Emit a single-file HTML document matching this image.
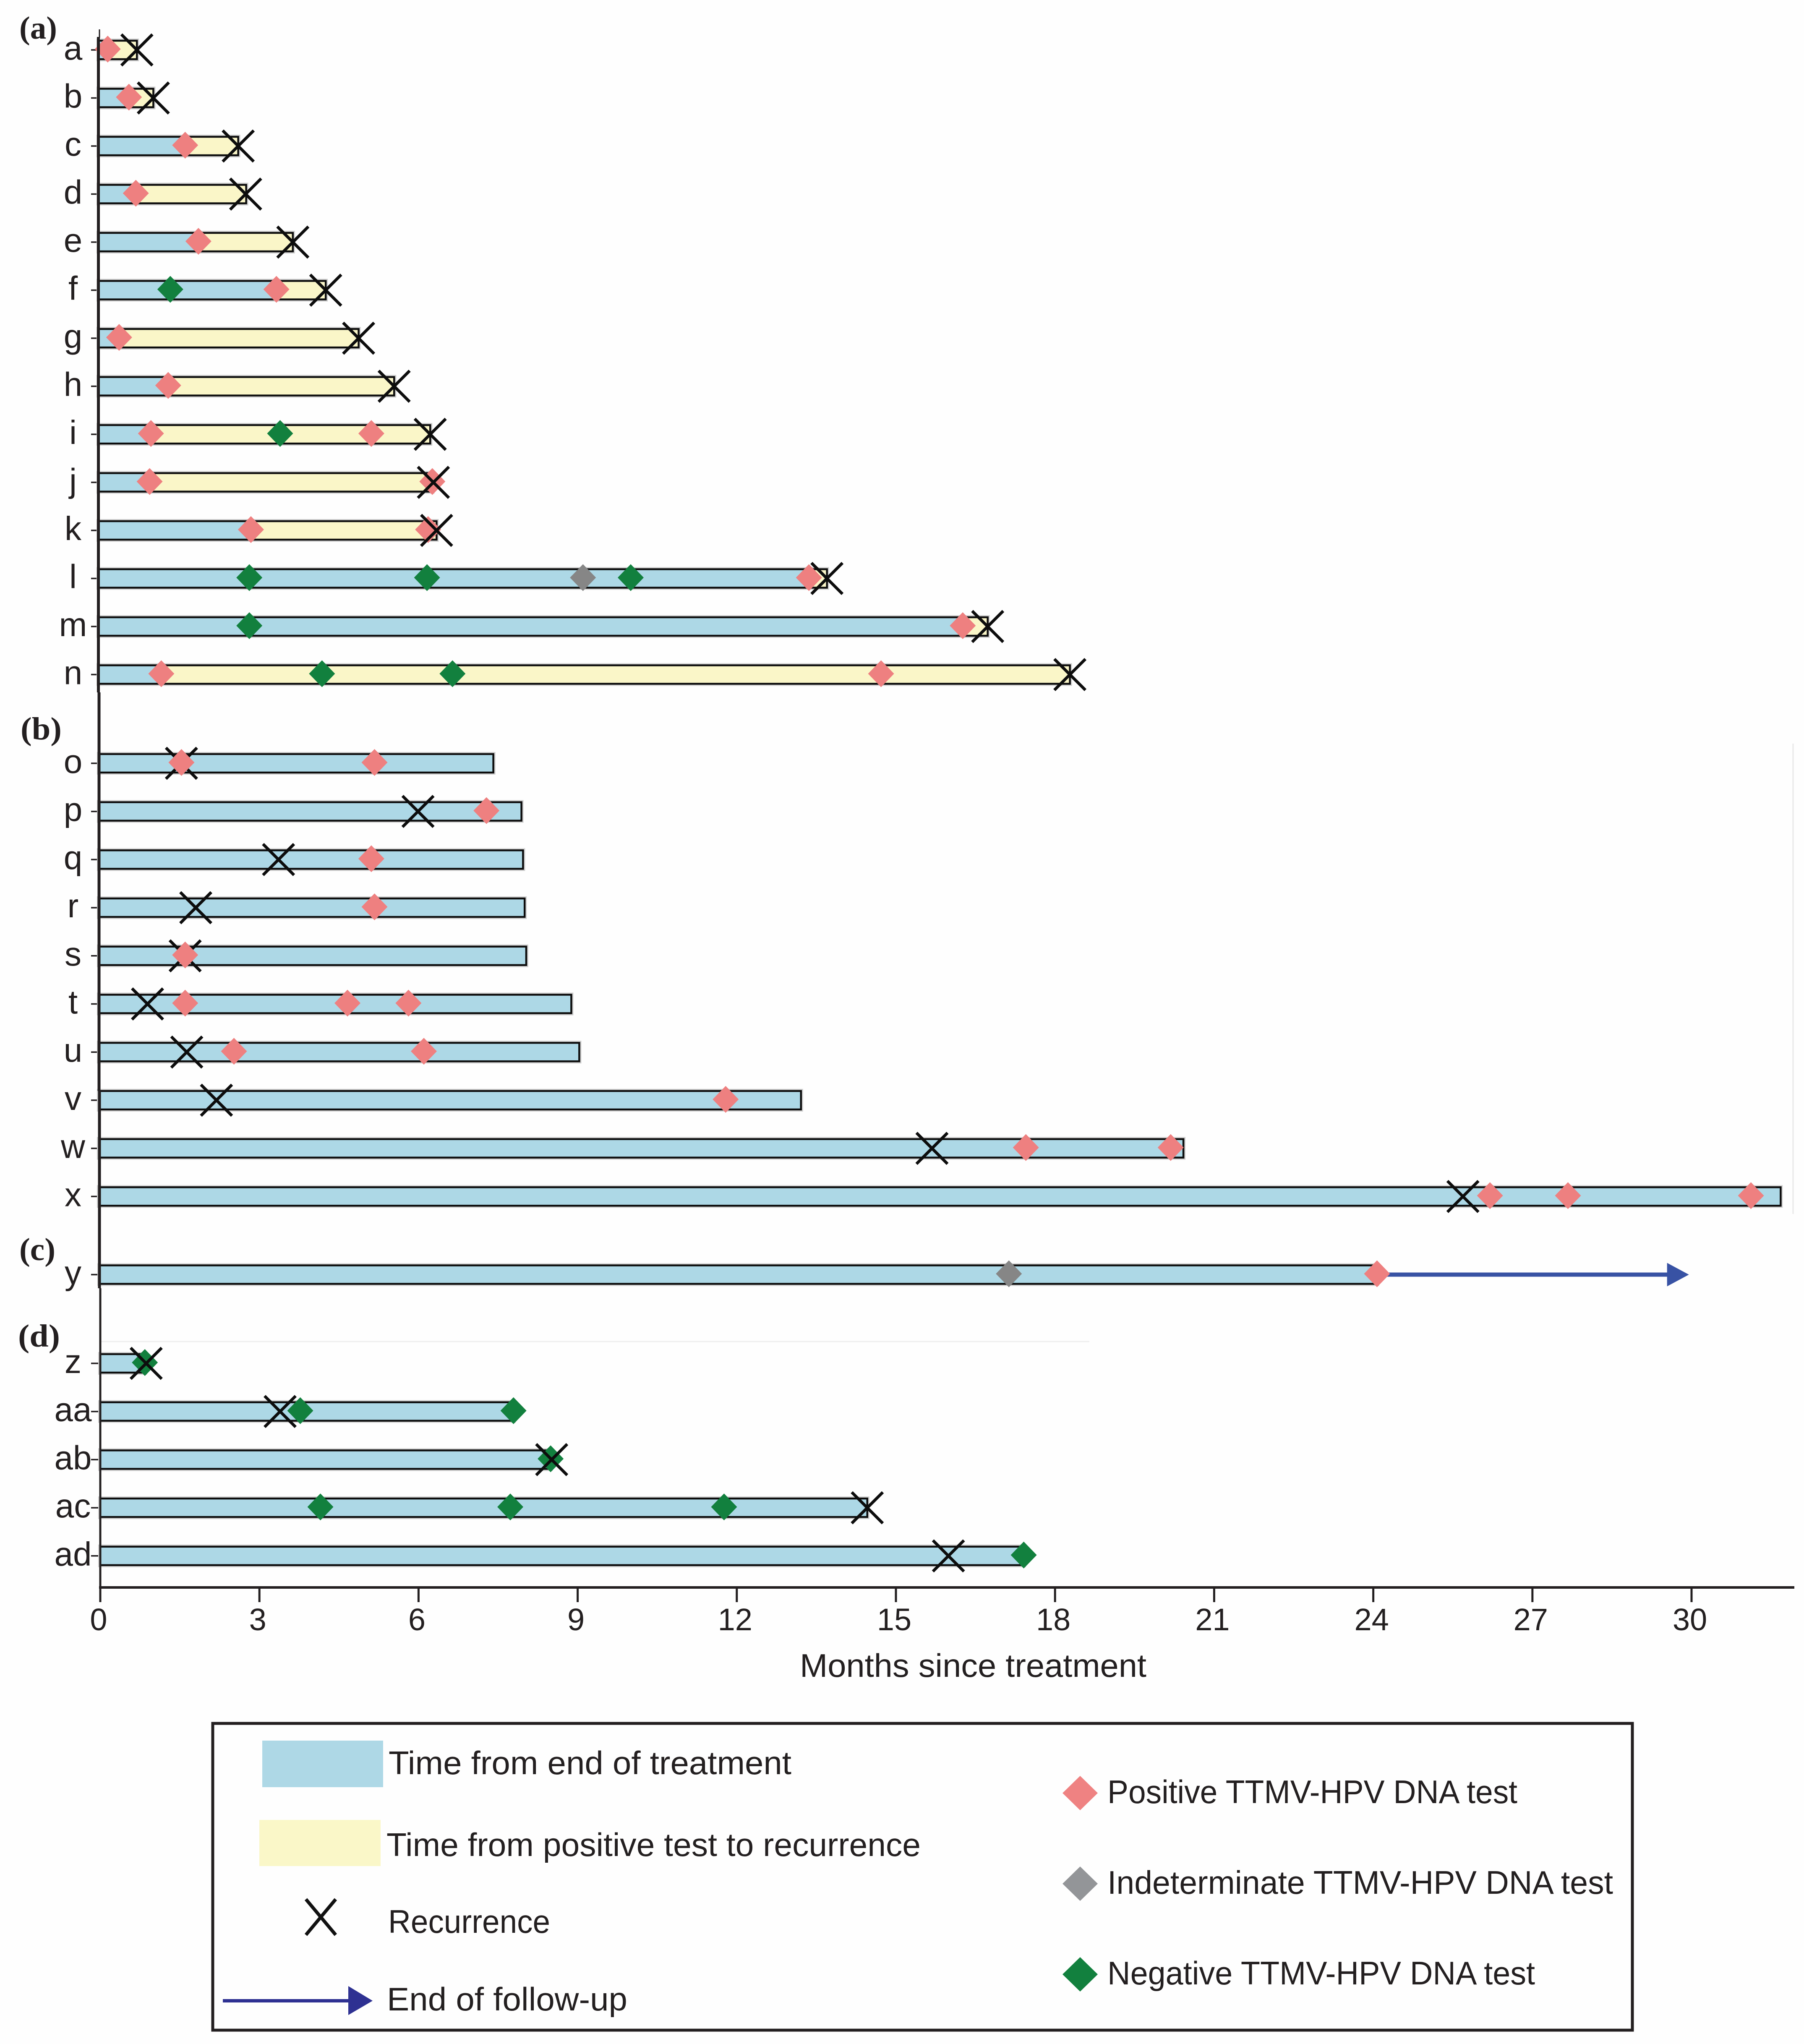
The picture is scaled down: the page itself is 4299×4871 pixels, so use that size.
<!DOCTYPE html>
<html lang="en">
<head>
<meta charset="utf-8">
<title>Timeline of TTMV-HPV DNA tests and recurrence by patient</title>
<style>
  html, body { margin: 0; padding: 0; background: #fefefe; }
  svg { display: block; }
  text { font-family: "Liberation Sans", sans-serif; fill: #231f20; }
  .panel { font-family: "Liberation Serif", serif; font-weight: bold; font-size: 76px; }
  .legend-text { font-size: 78px; }
</style>
</head>
<body>
<svg id="chart" xmlns="http://www.w3.org/2000/svg" width="4299" height="4871" viewBox="0 0 4299 4871">
  <rect x="0" y="0" width="4299" height="4871" fill="#fefefe"/>
  <line x1="4273" y1="1772" x2="4273" y2="2893" stroke="#eeeeee" stroke-width="4"/>
  <line x1="239" y1="3197" x2="2596" y2="3197" stroke="#eeeeee" stroke-width="3"/>

  <g id="plot"></g>

  <g stroke="#231f20" stroke-width="7" fill="none">
    <line x1="237" y1="70" x2="237" y2="90" stroke-width="3"/>
    <line x1="234.5" y1="88" x2="234.5" y2="1650"/>
    <line x1="236" y1="1650" x2="236" y2="2600"/>
    <line x1="237" y1="2600" x2="237" y2="3070"/>
    <line x1="239" y1="3070" x2="239" y2="3815" stroke-width="5"/>
  </g>

  <text class="panel" x="46" y="92" textLength="90" lengthAdjust="spacingAndGlyphs">(a)</text>
  <text class="panel" x="49" y="1762" textLength="98" lengthAdjust="spacingAndGlyphs">(b)</text>
  <text class="panel" x="46" y="3003" textLength="86" lengthAdjust="spacingAndGlyphs">(c)</text>
  <text class="panel" x="43" y="3209" textLength="100" lengthAdjust="spacingAndGlyphs">(d)</text>

  <text x="1906" y="3996" font-size="78" textLength="826" lengthAdjust="spacingAndGlyphs">Months since treatment</text>

  <g>
    <rect x="507" y="4107" width="3383" height="731" fill="none" stroke="#231f20" stroke-width="7"/>

    <rect x="625" y="4148" width="288" height="111" fill="#aed8e6"/>
    <text class="legend-text" x="926" y="4228" textLength="960" lengthAdjust="spacingAndGlyphs">Time from end of treatment</text>

    <rect x="618" y="4337" width="289" height="110" fill="#faf7c8"/>
    <text class="legend-text" x="921" y="4423" textLength="1273" lengthAdjust="spacingAndGlyphs">Time from positive test to recurrence</text>

    <g stroke="#111111" stroke-width="8">
      <line x1="729" y1="4526" x2="800" y2="4611"/>
      <line x1="800" y1="4526" x2="729" y2="4611"/>
    </g>
    <text class="legend-text" x="925" y="4606" textLength="386" lengthAdjust="spacingAndGlyphs">Recurrence</text>

    <line x1="531" y1="4768" x2="832" y2="4768" stroke="#2e3192" stroke-width="8"/>
    <polygon points="830,4733 888,4768 830,4802" fill="#2e3192"/>
    <text class="legend-text" x="922" y="4791" textLength="573" lengthAdjust="spacingAndGlyphs">End of follow-up</text>

    <polygon points="2532,4273 2574,4232 2616,4273 2574,4314" fill="#ef8282"/>
    <text class="legend-text" x="2639" y="4297" textLength="977" lengthAdjust="spacingAndGlyphs">Positive TTMV-HPV DNA test</text>

    <polygon points="2532,4489 2574,4448 2616,4489 2574,4530" fill="#939598"/>
    <text class="legend-text" x="2639" y="4513" textLength="1205" lengthAdjust="spacingAndGlyphs">Indeterminate TTMV-HPV DNA test</text>

    <polygon points="2532,4705 2574,4664 2616,4705 2574,4746" fill="#12803e"/>
    <text class="legend-text" x="2639" y="4729" textLength="1019" lengthAdjust="spacingAndGlyphs">Negative TTMV-HPV DNA test</text>
  </g>
</svg>

<script>
// ---- chart data (months since treatment) ----
const patients = ["a","b","c","d","e","f","g","h","i","j","k","l","m","n","o","p","q","r","s","t","u","v","w","x","y","z","aa","ab","ac","ad"];
const patientGroup = ["a","a","a","a","a","a","a","a","a","a","a","a","a","a","b","b","b","b","b","b","b","b","b","b","c","d","d","d","d","d"];
const followUpEnd = [0.69,1.0,2.6,2.75,3.63,4.25,4.87,5.54,6.22,6.26,6.34,13.7,16.73,18.28,7.41,7.94,7.97,8.0,8.03,8.88,9.03,13.21,20.42,31.68,24.07,0.84,7.79,8.49,14.46,17.41];
const yellowStart = [0.14,0.54,1.6,0.67,1.85,3.32,0.355,1.28,0.955,0.93,2.84,13.36,16.26,1.15,null,null,null,null,null,null,null,null,null,null,null,null,null,null,null,null];
const recurrence = [0.69,1.0,2.6,2.74,3.63,4.25,4.87,5.54,6.22,6.28,6.34,13.7,16.73,18.28,1.53,5.99,3.36,1.8,1.6,0.89,1.63,2.19,15.68,25.69,null,0.865,3.39,8.51,14.46,15.99];
const positiveTests = [[0.14],[0.54],[1.6],[0.67],[1.85],[3.32],[0.355],[1.28],[0.955,5.11],[0.93,6.26],[2.84,6.18],[13.36],[16.26],[1.15,14.72],[1.53,5.17],[7.28],[5.11],[5.17],[1.6],[1.6,4.66,5.81],[2.52,6.1],[11.79],[17.45,20.18],[26.2,27.67,31.12],[24.07],[],[],[],[],[]];
const negativeTests = [[],[],[],[],[],[1.32],[],[],[3.39],[],[],[2.81,6.16,10.0],[2.81],[4.18,6.64],[],[],[],[],[],[],[],[],[],[],[],[0.84],[3.77,7.79],[8.49],[4.15,7.73,11.76],[17.41]];
const indeterminateTests = [[],[],[],[],[],[],[],[],[],[],[],[9.1],[],[],[],[],[],[],[],[],[],[],[],[],[17.13],[],[],[],[],[]];
const followUpArrowPatient = "y";
const followUpArrowEnd = 29.95;
const xTickValues = [0,3,6,9,12,15,18,21,24,27,30];
const xTickLabels = ["0","3","6","9","12","15","18","21","24","27","30"];

// ---- axis functions ----
const xOrigin = 239, pxPerMonth = 126.4;
function xScale(m) { return xOrigin + pxPerMonth * m; }
function yScale(i) {
  const group = patientGroup[i];
  const first = patientGroup.indexOf(group);
  const top = { a: 119, b: 1819, c: 3037.5, d: 3249 }[group];
  const step = group === "a" ? 114.5 : 114.7;
  return top + (i - first) * step;
}
function barLeft(group) {
  return { a: 235, b: 236, c: 237, d: 239 }[group];
}

const NS = "http://www.w3.org/2000/svg";
const plot = document.getElementById("plot");
function make(tag, attrs, parent) {
  const el = document.createElementNS(NS, tag);
  for (const k in attrs) el.setAttribute(k, attrs[k]);
  (parent || plot).appendChild(el);
  return el;
}
function diamond(m, y, fill, name, parent) {
  const cx = xScale(m), cy = y - 2;
  const el = make("polygon", { points: (cx-31)+","+cy+" "+cx+","+(cy-32)+" "+(cx+31)+","+cy+" "+cx+","+(cy+32), fill: fill }, parent);
  
  
}
function cross(m, y, name, parent) {
  const cx = xScale(m), r = 37;
  const g = make("g", { stroke: "#0d0d0d", "stroke-width": 7 }, parent);
  
  
  const a = make("line", { x1: cx-r, y1: y-r, x2: cx+r, y2: y+r }, g);
  
  
  const b = make("line", { x1: cx+r, y1: y-r, x2: cx-r, y2: y+r }, g);
  
  
}

const barH = 44;
patients.forEach(function (p, i) {
  const y = yScale(i);
  const row = make("g", {});
  
  

  const label = make("text", { x: 174, y: y + 23, "font-size": 80, "text-anchor": "middle" }, row);
  label.textContent = p;
  
  

  const tick = make("line", { x1: 217, y1: y, x2: 236, y2: y, stroke: "#231f20", "stroke-width": 3.5 }, row);
  
  

  const x0 = barLeft(patientGroup[i]), x1 = xScale(followUpEnd[i]);
  const halo = make("rect", { x: x0, y: y - barH/2, width: x1 - x0, height: barH, fill: "none", stroke: "#cfcfcf", "stroke-width": 10 }, row);
  
  

  const blue = make("rect", { x: x0, y: y - barH/2, width: x1 - x0, height: barH, fill: "#add8e6" }, row);
  
  

  if (yellowStart[i] !== null) {
    const ys = xScale(yellowStart[i]);
    const yellow = make("rect", { x: ys, y: y - barH/2, width: x1 - ys, height: barH, fill: "#faf6c8" }, row);
    
    
  }

  const outline = make("rect", { x: x0, y: y - barH/2, width: x1 - x0, height: barH, fill: "none", stroke: "#0d0d0d", "stroke-width": 4.5 }, row);
  
  

  if (p === followUpArrowPatient) {
    const ax = xScale(followUpArrowEnd);
    const shaft = make("line", { x1: x1, y1: y, x2: ax - 50, y2: y, stroke: "#3852a4", "stroke-width": 10 }, row);
    
    
    const head = make("polygon", { points: (ax-52)+","+(y-28)+" "+ax+","+y+" "+(ax-52)+","+(y+28), fill: "#3852a4" }, row);
    
    
  }

  const crossUnder = patientGroup[i] === "b";
  if (crossUnder && recurrence[i] !== null) cross(recurrence[i], y, 'recurrence-' + p, row);
  negativeTests[i].forEach(function (m) { diamond(m, y, "#12803e", 'negative-test-' + p, row); });
  indeterminateTests[i].forEach(function (m) { diamond(m, y, "#868686", 'indeterminate-test-' + p, row); });
  positiveTests[i].forEach(function (m) { diamond(m, y, "#ee8080", 'positive-test-' + p, row); });
  if (!crossUnder && recurrence[i] !== null) cross(recurrence[i], y, 'recurrence-' + p, row);
});

// ---- x axis ----
const xAxis = make("g", {});


const xLine = make("line", { x1: 236, y1: 3783, x2: 4276, y2: 3783, stroke: "#231f20", "stroke-width": 6 }, xAxis);


xTickValues.forEach(function (v, i) {
  const x = xScale(v);
  const t = make("line", { x1: x, y1: 3783, x2: x, y2: 3818, stroke: "#231f20", "stroke-width": 5 }, xAxis);
  
  
  const lab = make("text", { x: x - 4, y: 3885, "font-size": 74, "text-anchor": "middle" }, xAxis);
  lab.textContent = xTickLabels[i];
  
  
});
</script>
</body>
</html>
